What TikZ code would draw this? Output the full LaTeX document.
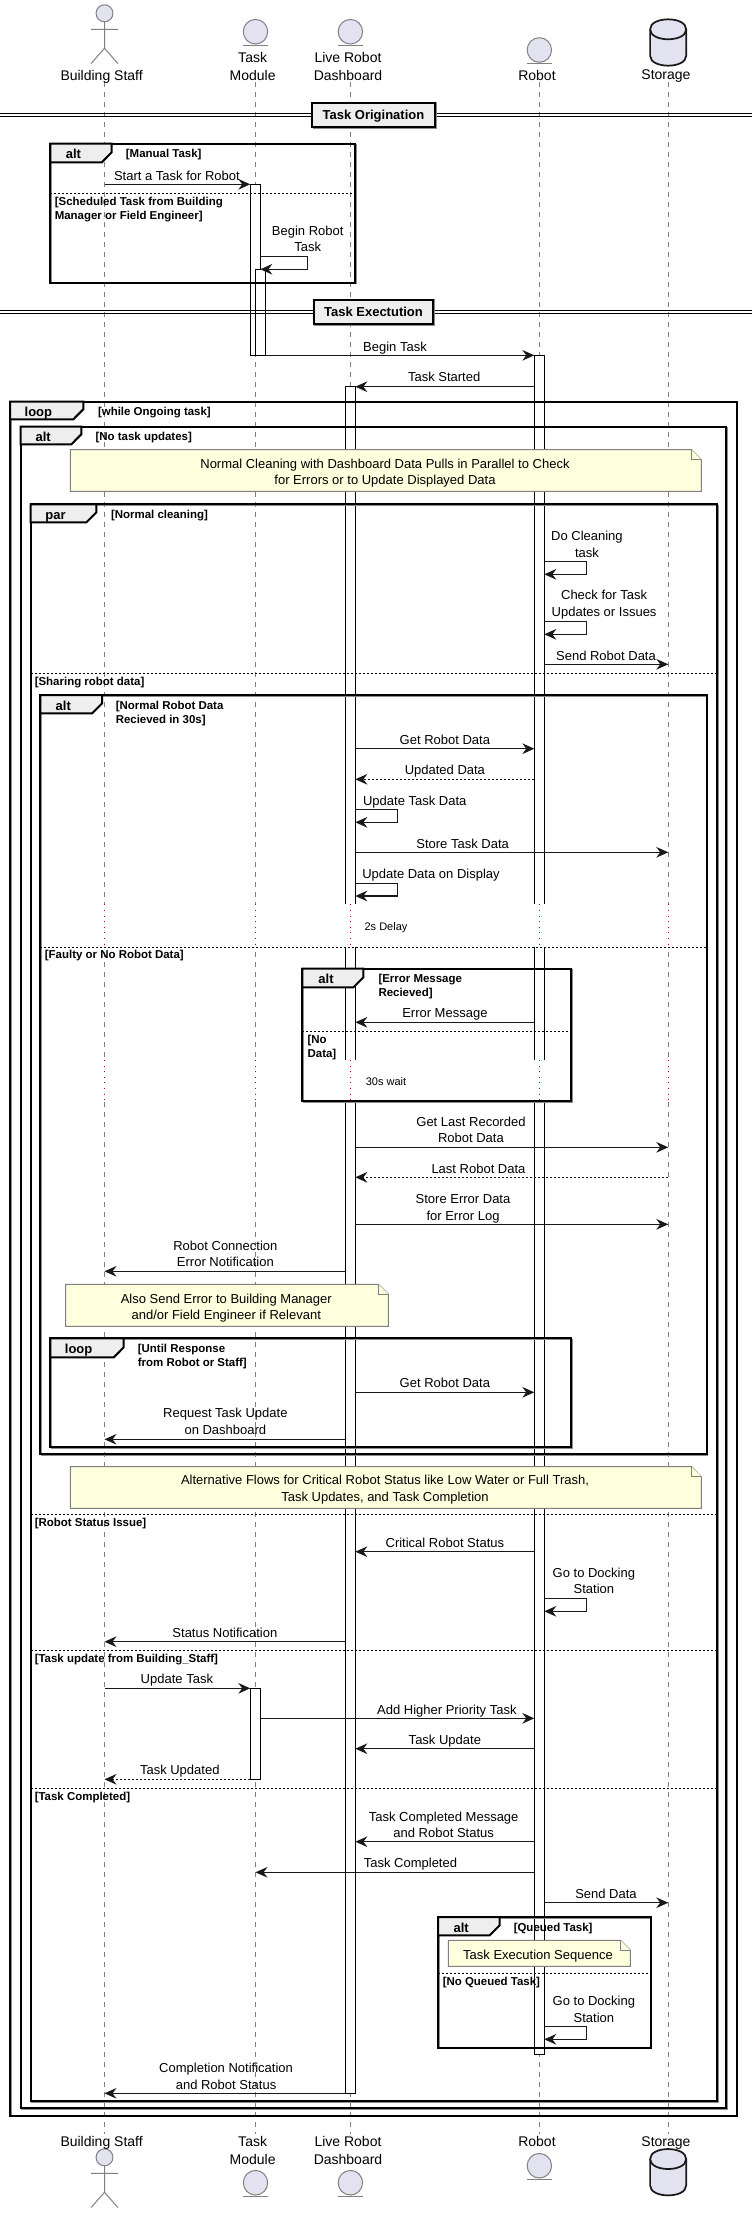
\documentclass[tikz,border=0pt]{standalone}
\usepackage{fontspec}
\setmainfont{Liberation Sans}
\usetikzlibrary{arrows.meta}
\definecolor{partfill}{HTML}{E2E2F0}
\definecolor{notefill}{HTML}{FEFFDD}
\definecolor{tabfill}{HTML}{EEEEEE}
\definecolor{delayred}{HTML}{A80036}
\tikzset{
	lifeline/.style={color=black!50, line width=0.75pt, dash pattern=on 3.75pt off 3.75pt},
	delaydots/.style={color=delayred, line width=0.8pt, dash pattern=on 0.8pt off 3.4pt},
	actbar/.style={draw=black, fill=white, line width=1pt},
	msgline/.style={line width=0.8pt, color=black!90, -{Stealth[length=9pt,width=8pt,inset=3pt]}},
	msgdash/.style={msgline, dash pattern=on 1.5pt off 1.5pt},
	elseline/.style={line width=0.8pt, dash pattern=on 1.5pt off 1.5pt},
	fragline/.style={line width=1.5pt},
	fragshadow/.style={line width=1pt, color=black!45},
	divline/.style={line width=1pt},
	partline/.style={color=black!50, line width=0.75pt, fill=partfill},
	stickline/.style={color=black!50, line width=0.75pt},
	dbline/.style={color=black!90, line width=1.3pt, fill=partfill},
	noteline/.style={draw=black!50, fill=notefill, line width=0.75pt},
	msgtext/.style={inner sep=0pt, align=center, text depth=0pt, font=\fontsize{9.75pt}{12.4pt}\selectfont},
	parttext/.style={inner sep=0pt, align=center, text depth=0pt, font=\fontsize{10.5pt}{13.5pt}\selectfont},
	condtext/.style={inner sep=0pt, align=left, anchor=west, text depth=0pt, font=\fontsize{8.6pt}{10.5pt}\selectfont\bfseries},
	tabtext/.style={inner sep=0pt, text depth=0pt, font=\fontsize{9.75pt}{12pt}\selectfont\bfseries},
	delaytext/.style={inner sep=0pt, text depth=0pt, font=\fontsize{8.25pt}{10pt}\selectfont},
	divbox/.style={draw=black, fill=tabfill, line width=1.5pt, inner sep=0pt, text depth=0pt, minimum width=#1, minimum height=18pt, font=\fontsize{9.75pt}{12pt}\selectfont\bfseries},
}
\def\msg[#1](#2)(#3)(#4){\draw[#1] (#2 |- 0,#4) -- (#3 |- 0,#4);}
\def\selfmsg(#1)(#2,#3,#4){\draw[msgline] (#1 |- 0,#3) -- (#2,#3) -- (#2,#4) -- (#1 |- 0,#4);}
\def\fragbox(#1,#2)(#3,#4)(#5,#6){%
	\draw[fragshadow] ({#1+1},{#2+1}) rectangle ({#3+1},{#4+1});
	\draw[fragline] (#1,#2) rectangle (#3,#4);
	\draw[fragline, fill=tabfill] (#1,#2) -- (#5,#2) -- (#5,{#6-10}) -- ({#5-10},#6) -- (#1,#6) -- cycle;}
\def\notebox(#1,#2)(#3,#4){%
	\draw[noteline] (#1,#2) -- ({#3-10},#2) -- (#3,{#2+10}) -- (#3,#4) -- (#1,#4) -- cycle;
	\draw[noteline] ({#3-10},#2) -- ({#3-10},{#2+10}) -- (#3,{#2+10});}
\def\actorfig(#1,#2){%
	\begin{scope}[shift={(#1,#2)}]
		\draw[partline] (0,0) circle (8.5);
		\draw[stickline] (0,8.4) -- (0,35) (-13.5,16) -- (13.5,16) (-13.5,50.2) -- (0,35) -- (13.5,50.2);
	\end{scope}}
\def\entityfig(#1,#2){%
	\begin{scope}[shift={(#1,#2)}]
		\draw[partline] (0,0) circle (12.3);
		\draw[stickline] (-12.3,13.6) -- (12.3,13.6);
	\end{scope}}
\def\storefig(#1,#2){%
	\begin{scope}[shift={(#1,#2)}]
		\draw[dbline] (-18.2,10) -- (-18.2,36.4) .. controls (-18.2,49.7) and (18.2,49.7) .. (18.2,36.4) -- (18.2,10) .. controls (18.2,-3.3) and (-18.2,-3.3) .. (-18.2,10) -- cycle;
		\draw[dbline, fill=none] (-18.2,10) .. controls (-18.2,23.3) and (18.2,23.3) .. (18.2,10);
	\end{scope}}

\begin{document}
\begin{tikzpicture}[x=0.7436pt, y=-0.75pt]
	\useasboundingbox (0,0) rectangle (758.4,2213);
	
	%%%%% LIFELINES %%%%%
	\coordinate (staff) at (105.4,82);
	\coordinate (module) at (257.7,82);
	\coordinate (moduleL) at (252.4,82);
	\coordinate (moduleR) at (262.6,82);
	\coordinate (moduleRR) at (267.9,82);
	\coordinate (dash) at (353.4,82);
	\coordinate (dashL) at (348.2,82);
	\coordinate (dashR) at (358.4,82);
	\coordinate (bot) at (544,82);
	\coordinate (botL) at (538.9,82);
	\coordinate (botR) at (549,82);
	\coordinate (store) at (674,82);
	
	\foreach \who in {staff,module,dash,bot,store}
		\draw[lifeline] (\who) -- (\who |- 0,2133.7);
	
	%%%%% ACTIVATIONS %%%%%
	\draw[actbar] (moduleL |- 0,184.3) rectangle (moduleR |- 0,355.3);
	\draw[actbar] (moduleR |- 0,269.3) ++(-5,0) rectangle (moduleRR |- 0,355.3);
	\draw[actbar] (moduleL |- 0,1688.3) rectangle (moduleR |- 0,1779.3);
	\draw[actbar] (dashL |- 0,386.7) rectangle (dashR |- 0,2093.3);
	\draw[actbar] (botL |- 0,355.3) rectangle (botR |- 0,2054.7);
	
	% delays cut the bars and the lifelines
	\foreach \gaptop/\gapend in {904.3/946.7, 1060/1101.7} {
		\fill[white] (346.5,\gaptop) rectangle (360,\gapend);
		\fill[white] (537.5,\gaptop) rectangle (550.5,\gapend);
		\foreach \who in {staff,module,dash,bot,store} {
			\fill[white] ([xshift=-1.5pt]\who |- 0,\gaptop) rectangle ([xshift=1.5pt]\who |- 0,\gapend);
			\draw[delaydots] (\who |- 0,\gaptop) -- (\who |- 0,\gapend);
		}
	}
	
	%%%%% PARTICIPANTS %%%%%
	\actorfig(105.4,13.3)
	\entityfig(257.7,31.7)
	\entityfig(353.4,31.7)
	\entityfig(544,50)
	\storefig(673.9,19.3)
	\node[parttext] (stafftop) at (102.5,75) {Building Staff};
	\node[parttext] (moduletop) at (254.8,66.3) {Task\\Module};
	\node[parttext] (dashtop) at (351,66.3) {Live Robot\\Dashboard};
	\node[parttext] (bottop) at (541.6,75) {Robot};
	\node[parttext] (storetop) at (671.7,75) {Storage};
	
	\actorfig(105.4,2157.3)
	\entityfig(257.7,2182.7)
	\entityfig(353.4,2182.7)
	\entityfig(544,2165.7)
	\storefig(673.9,2149)
	\node[parttext] (staffend) at (102.5,2141.3) {Building Staff};
	\node[parttext] (moduleend) at (254.8,2150.3) {Task\\Module};
	\node[parttext] (dashend) at (351,2150.3) {Live Robot\\Dashboard};
	\node[parttext] (botend) at (541.6,2141.3) {Robot};
	\node[parttext] (storeend) at (671.7,2141.3) {Storage};
	
	%%%%% DIVIDERS %%%%%
	\draw[divline] (0,113.3) -- (758.4,113.3) (0,116.7) -- (758.4,116.7);
	\draw[fragshadow] (316,103) rectangle (439.6,128);
	\node[divbox=92pt] (origination) at (376.7,114.5) {Task Origination};
	\draw[divline] (0,310.3) -- (758.4,310.3) (0,313.7) -- (758.4,313.7);
	\draw[fragshadow] (317.7,300) rectangle (437.7,325);
	\node[divbox=89pt] (execution) at (376.7,311.5) {Task Exectution};
	
	%%%%% FRAGMENTS %%%%%
	\fragbox(50.8,143.7)(358.3,282.7)(112.7,162.3)
	\node[tabtext] (alta) at (74,153.3) {alt};
	\node[condtext] (manual) at (126.7,153) {[Manual Task]};
	\draw[elseline] (50.8,193.3) -- (358.3,193.3);
	\node[condtext] (scheduled) at (55,208.3) {[Scheduled Task from Building\\Manager or Field Engineer]};
	
	\fragbox(10.2,401.7)(743,2115.7)(84,419.3)
	\node[tabtext] (loopa) at (38.7,411.7) {loop};
	\node[condtext] (ongoing) at (98.6,411) {[while Ongoing task]};
	
	\fragbox(20.8,426.7)(732.6,2108.3)(82,444.3)
	\node[tabtext] (altb) at (43.5,436.7) {alt};
	\node[condtext] (noupdates) at (96.2,436) {[No task updates]};
	
	\fragbox(31,504.3)(723,2101.3)(97.2,522.3)
	\node[tabtext] (para) at (56,515.7) {par};
	\node[condtext] (normal) at (111.7,514) {[Normal cleaning]};
	\draw[elseline] (31,673.3) -- (723,673.3);
	\node[condtext] (sharing) at (34.8,681.3) {[Sharing robot data]};
	\draw[elseline] (31,1514.3) -- (723,1514.3);
	\node[condtext] (status) at (34.8,1522) {[Robot Status Issue]};
	\draw[elseline] (31,1650.7) -- (723,1650.7);
	\node[condtext] (taskupdate) at (34.8,1658.3) {[Task update from Building\_Staff]};
	\draw[elseline] (31,1788.3) -- (723,1788.3);
	\node[condtext] (completed) at (34.8,1796.3) {[Task Completed]};
	
	\fragbox(40.6,695)(712.8,1454.3)(103,713.3)
	\node[tabtext] (altc) at (63.8,705.3) {alt};
	\node[condtext] (normaldata) at (116.5,712.3) {[Normal Robot Data\\Recieved in 30s]};
	\draw[elseline] (40.6,947.3) -- (712.8,947.3);
	\node[condtext] (faulty) at (45,954.3) {[Faulty or No Robot Data]};
	
	\fragbox(305,968.7)(576.4,1101.3)(366.5,987.3)
	\node[tabtext] (altd) at (328.8,978.7) {alt};
	\node[condtext] (errormsg) at (381.5,985.3) {[Error Message\\Recieved]};
	\draw[elseline] (305,1031.3) -- (576.4,1031.3);
	\node[condtext] (nodata) at (310,1046.3) {[No\\Data]};
	
	\fragbox(50.8,1338.3)(576.4,1447.3)(124.8,1357.3)
	\node[tabtext] (loopb) at (79.3,1348.7) {loop};
	\node[condtext] (until) at (138.8,1355.3) {[Until Response\\from Robot or Staff]};
	
	\fragbox(442,1917)(656.2,2047.7)(503.9,1935.3)
	\node[tabtext] (alte) at (465.2,1927.3) {alt};
	\node[condtext] (queued) at (517.9,1927) {[Queued Task]};
	\draw[elseline] (442,1973.3) -- (656.2,1973.3);
	\node[condtext] (noqueued) at (446.3,1981.3) {[No Queued Task]};
	
	%%%%% NOTES %%%%%
	\notebox(71,449.7)(707.5,491.3)
	\node[msgtext] (notepulls) at (388.3,472) {Normal Cleaning with Dashboard Data Pulls in Parallel to Check\\for Errors or to Update Displayed Data};
	\notebox(66.2,1284.3)(391.7,1326.3)
	\node[msgtext] (notemanager) at (228.2,1306.7) {Also Send Error to Building Manager\\and/or Field Engineer if Relevant};
	\notebox(71,1466.7)(707.5,1508.3)
	\node[msgtext] (noteflows) at (388.3,1488.5) {Alternative Flows for Critical Robot Status like Low Water or Full Trash,\\Task Updates, and Task Completion};
	\notebox(452.1,1940.3)(635.9,1966.3)
	\node[msgtext] (notequeue) at (542.6,1954.3) {Task Execution Sequence};
	
	%%%%% MESSAGES %%%%%
	\msg[msgline](staff)(moduleL)(184.3)
	\node[msgtext] (startlbl) at (178.4,175.3) {Start a Task for Robot};
	\selfmsg(moduleR)(310,256.7,269.3)
	\node[msgtext] (beginrobotlbl) at (310.4,238.7) {Begin Robot\\Task};
	\msg[msgline](moduleRR)(botL)(355.3)
	\node[msgtext] (begintasklbl) at (398.4,346.7) {Begin Task};
	\msg[msgline](botL)(dashR)(386.7)
	\node[msgtext] (startedlbl) at (448,376.7) {Task Started};
	
	\selfmsg(botR)(591.4,561.7,574.3)
	\node[msgtext] (cleanlbl) at (592,544.2) {Do Cleaning\\task};
	\selfmsg(botR)(591.4,621.7,634.3)
	\node[msgtext] (checklbl) at (609.3,603.5) {Check for Task\\Updates or Issues};
	\msg[msgline](botR)(store)(664.3)
	\node[msgtext] (sendrobotlbl) at (611.2,655.3) {Send Robot Data};
	
	\msg[msgline](dashR)(botL)(748.7)
	\node[msgtext] (getlbl) at (448.7,739.3) {Get Robot Data};
	\msg[msgdash](botL)(dashR)(779.3)
	\node[msgtext] (updatedlbl) at (448.7,769.3) {Updated Data};
	\selfmsg(dashR)(400.9,809.7,822.3)
	\node[msgtext] (updatetasklbl) at (418.3,800.3) {Update Task Data};
	\msg[msgline](dashR)(store)(852.3)
	\node[msgtext] (storetasklbl) at (466.6,843.3) {Store Task Data};
	\selfmsg(dashR)(400.9,883.3,896)
	\node[msgtext] (displaylbl) at (434.7,873.7) {Update Data on Display};
	\node[delaytext] (delaytwo) at (389.3,926.3) {2s Delay};
	
	\msg[msgline](botL)(dashR)(1022.3)
	\node[msgtext] (errorlbl) at (448.7,1012.7) {Error Message};
	\node[delaytext] (delaythirty) at (389.3,1081.3) {30s wait};
	
	\msg[msgline](dashR)(store)(1147.3)
	\node[msgtext] (lastgetlbl) at (475,1129.8) {Get Last Recorded\\Robot Data};
	\msg[msgdash](store)(dashR)(1177.3)
	\node[msgtext] (lastlbl) at (482.6,1168.3) {Last Robot Data};
	\msg[msgline](dashR)(store)(1224.3)
	\node[msgtext] (errorloglbl) at (467,1207.2) {Store Error Data\\for Error Log};
	\msg[msgline](dashL)(staff)(1271.3)
	\node[msgtext] (connectionlbl) at (227.3,1253.7) {Robot Connection\\Error Notification};
	
	\msg[msgline](dashR)(botL)(1392.3)
	\node[msgtext] (getagainlbl) at (448.7,1382.3) {Get Robot Data};
	\msg[msgline](dashL)(staff)(1439.3)
	\node[msgtext] (requestlbl) at (227.3,1421.5) {Request Task Update\\on Dashboard};
	
	\msg[msgline](botL)(dashR)(1551.7)
	\node[msgtext] (criticallbl) at (448.7,1542.3) {Critical Robot Status};
	\selfmsg(botR)(591.4,1598.7,1611.3)
	\node[msgtext] (dockinglbl) at (599,1580.8) {Go to Docking\\Station};
	\msg[msgline](dashL)(staff)(1641.7)
	\node[msgtext] (notifylbl) at (226.8,1632.7) {Status Notification};
	
	\msg[msgline](staff)(moduleL)(1688.3)
	\node[msgtext] (updatelbl) at (178.4,1678.7) {Update Task};
	\msg[msgline](moduleR)(botL)(1718.3)
	\node[msgtext] (prioritylbl) at (450.7,1709.3) {Add Higher Priority Task};
	\msg[msgline](botL)(dashR)(1748.7)
	\node[msgtext] (taskupdlbl) at (448.7,1739.3) {Task Update};
	\msg[msgdash](moduleL)(staff)(1779.3)
	\node[msgtext] (taskupdatedlbl) at (181.3,1769.3) {Task Updated};
	
	\msg[msgline](botL)(dashR)(1841.7)
	\node[msgtext] (complmsglbl) at (447.5,1824.7) {Task Completed Message\\and Robot Status};
	\msg[msgline](botL)(module)(1872.3)
	\node[msgtext] (compllbl) at (414,1862.3) {Task Completed};
	\msg[msgline](botR)(store)(1902.7)
	\node[msgtext] (senddatalbl) at (611.2,1893.3) {Send Data};
	\selfmsg(botR)(591.4,2026.7,2039.3)
	\node[msgtext] (dockagainlbl) at (599,2009.2) {Go to Docking\\Station};
	\msg[msgline](dashL)(staff)(2093.3)
	\node[msgtext] (finishlbl) at (228,2076.2) {Completion Notification\\and Robot Status};
\end{tikzpicture}
\end{document}
